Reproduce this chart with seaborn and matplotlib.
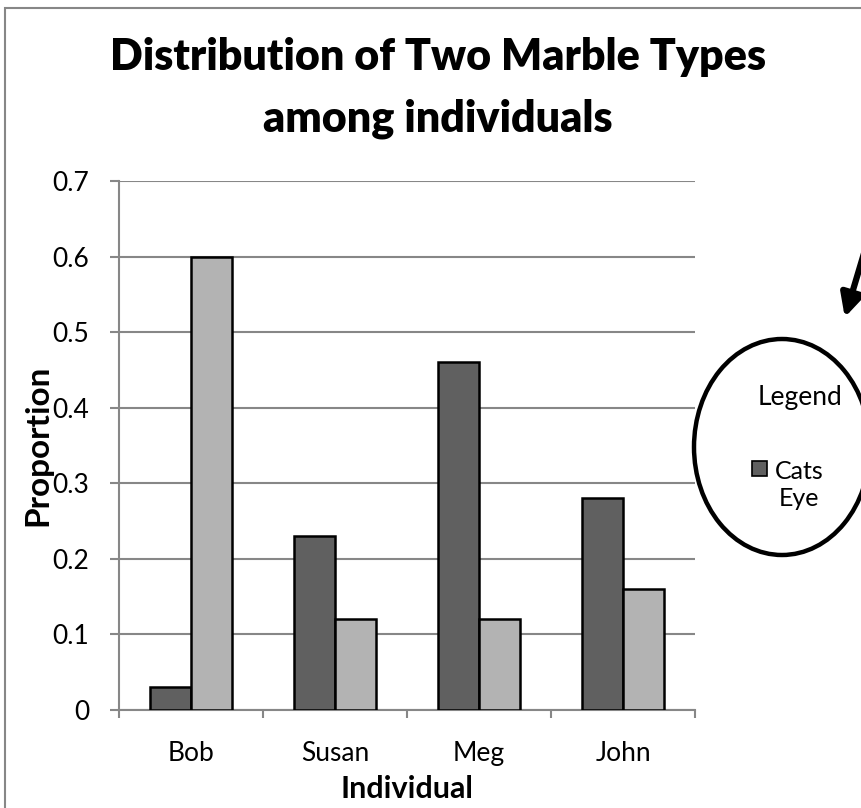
import pandas as pd
import matplotlib
matplotlib.use("Agg")
import matplotlib.pyplot as plt
import seaborn as sns
from matplotlib.patches import Ellipse, Rectangle

# data
individuals = ["Bob", "Susan", "Meg", "John"]
cats_eye = [0.03, 0.23, 0.46, 0.28]
other_type = [0.60, 0.12, 0.12, 0.16]
y_ticks = [0, 0.1, 0.2, 0.3, 0.4, 0.5, 0.6, 0.7]

df = pd.DataFrame({
    "Individual": individuals * 2,
    "Proportion": cats_eye + other_type,
    "Marble": ["Cats Eye"] * 4 + ["Other"] * 4,
})

sns.set_theme(style="white")
plt.rcParams["font.family"] = ["Lato", "DejaVu Sans"]
plt.rcParams["text.color"] = "black"
plt.rcParams["axes.labelcolor"] = "black"

grey = "#878787"
dark = "#606060"
light = "#b3b3b3"

fig = plt.figure(figsize=(8.62, 8.08), dpi=100)
ax = fig.add_axes([119 / 862, 1 - 710 / 808, 576 / 862, 529 / 808])

sns.barplot(data=df, x="Individual", y="Proportion", hue="Marble",
            palette=[dark, light], width=0.57, edgecolor="black",
            linewidth=1.8, legend=False, ax=ax, zorder=3)

ax.set_ylim(0, 0.7)
ax.set_xlim(-0.5, 3.5)
ax.set_yticks(y_ticks)
ax.set_yticklabels([f"{t:g}" for t in y_ticks])
ax.yaxis.grid(True, color=grey, linewidth=1.5, zorder=0)
ax.set_axisbelow(True)
for side in ["top", "right"]:
    ax.spines[side].set_visible(False)
for side in ["left", "bottom"]:
    ax.spines[side].set_color(grey)
    ax.spines[side].set_linewidth(1.5)

# category boundary ticks on x axis
ax.set_xticks([-0.5, 0.5, 1.5, 2.5, 3.5], minor=True)
ax.tick_params(axis="x", which="minor", bottom=True, length=6, color=grey, width=1.5)
ax.tick_params(axis="x", which="major", bottom=False, labelsize=19, pad=16,
               labelcolor="black")
ax.tick_params(axis="y", left=True, length=6.5, color=grey, width=1.5, labelsize=19,
               pad=15, labelcolor="black")

ax.set_xlabel("Individual", fontsize=22, fontweight="bold", labelpad=7)
ax.set_ylabel("Proportion", fontsize=24, fontweight="bold")
ax.yaxis.set_label_coords(-0.116, 0.5)

fig.text(438 / 862, 1 - 88 / 808, "Distribution of Two Marble Types\namong individuals",
         ha="center", va="center", fontsize=31, fontweight="heavy", linespacing=1.65)

# outer chart frame
fig.patches.append(Rectangle((5 / 862, -0.1), 1.2, 1.1 - 8 / 808,
                             transform=fig.transFigure, fill=False,
                             edgecolor=grey, linewidth=1.5))

# hand-drawn circle legend and arrow
ov = fig.add_axes([0, 0, 1, 1])
ov.set_xlim(0, 862)
ov.set_ylim(808, 0)
ov.axis("off")
ov.add_patch(Ellipse((782, 447), 176, 216, fill=False, edgecolor="black", linewidth=3.2))
ov.text(800, 398, "Legend", ha="center", va="center", fontsize=19)
ov.add_patch(Rectangle((752, 461), 15, 15, facecolor=dark, edgecolor="black", linewidth=1.2))
ov.text(799, 485, "Cats\nEye", ha="center", va="center", fontsize=18,
        multialignment="center", linespacing=1.25)
ov.annotate("", xy=(844, 320), xytext=(868, 240),
            arrowprops=dict(arrowstyle="-|>", color="black", lw=4.5, mutation_scale=34))

fig.savefig("out.png", dpi=100)
